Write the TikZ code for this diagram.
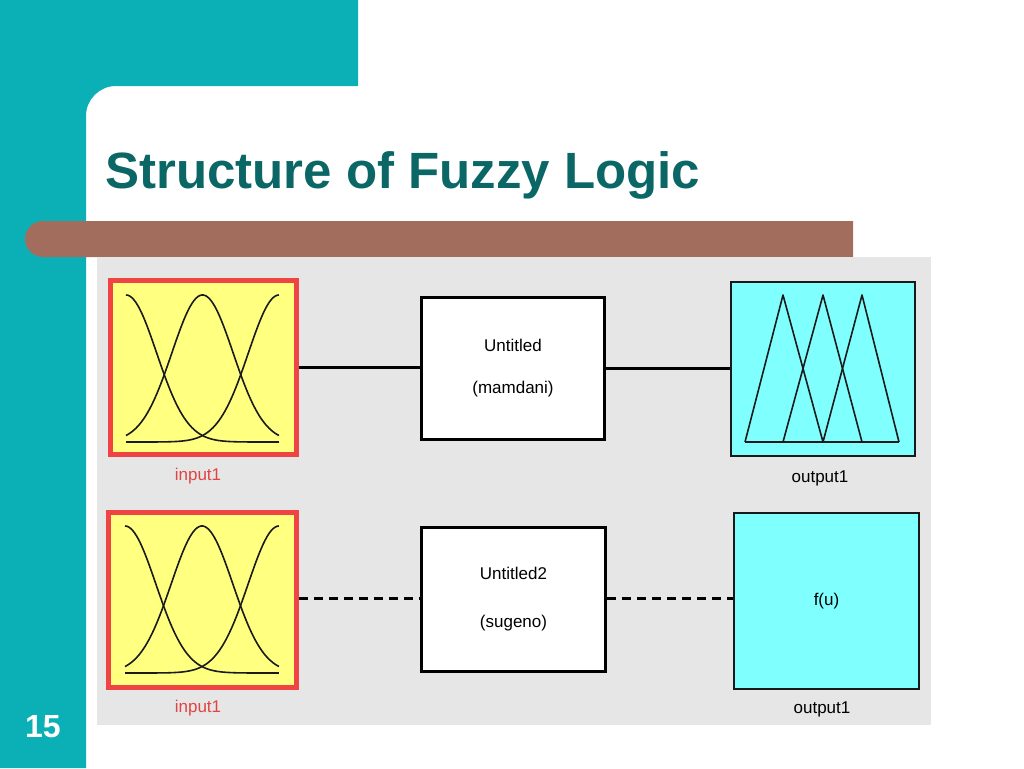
\documentclass[tikz,border=0pt]{standalone}
\usepackage{fontspec}
\setmainfont{Liberation Sans}
\definecolor{teal1}{HTML}{0BB0B7}
\definecolor{titlec}{HTML}{0B6666}
\definecolor{brownbar}{HTML}{A26D5D}
\definecolor{panel}{HTML}{E6E6E6}
\definecolor{inred}{HTML}{F04444}
\definecolor{inyellow}{HTML}{FFFF80}
\definecolor{outcyan}{HTML}{80FFFF}
\definecolor{lblred}{HTML}{E04444}
\definecolor{curvec}{HTML}{1A1A1A}
\begin{document}
\begin{tikzpicture}[x=1pt,y=-1pt,
  inbox/.style={draw=inred, line width=5pt, fill=inyellow, inner sep=0pt},
  fisbox/.style={draw=black, line width=3pt, fill=white, inner sep=0pt, align=center,
    font=\fontsize{17}{42}\selectfont},
  outbox/.style={draw=black!90, line width=2pt, fill=outcyan, inner sep=0pt,
    font=\fontsize{17}{20}\selectfont},
  conn/.style={line width=3pt},
  dconn/.style={line width=3pt, dash pattern=on 9pt off 6pt},
  mf/.style={line width=1.6pt, draw=curvec},
  lbl/.style={font=\fontsize{17}{20}\selectfont, inner sep=0pt}
]
\useasboundingbox (0,0) rectangle (1024,768);
\fill[white] (0,0) rectangle (1024,768);
% teal frame
\fill[teal1] (0,0) -- (358,0) -- (358,86) -- (116,86)
  arc[start angle=90, end angle=180, radius=30pt] -- (86,768) -- (0,768) -- cycle;
% brown bar
\fill[brownbar] (853,221) -- (43,221) arc[start angle=90, end angle=270, radius=18pt] -- (853,257) -- cycle;
% title
\node[anchor=base west, inner sep=0pt, text=titlec, font=\fontsize{51}{60}\selectfont\bfseries] (title) at (105,188) {Structure of Fuzzy Logic};
% page number
\node[text=white, font=\fontsize{32}{36}\selectfont\bfseries, inner sep=0pt] (pnum) at (43,727) {15};
% grey panel
\fill[panel] (97,257) rectangle (931,725);

% ---- top row ----
\node[inbox, minimum width=186pt, minimum height=174pt] (in1) at (203.5,367.5) {};
\node[fisbox, minimum width=183pt, minimum height=142pt] (mam) at (513,368.5) {Untitled\\(mamdani)};
\node[outbox, minimum width=184pt, minimum height=174pt] (out1) at (823,369) {};
\draw[conn] (in1.east) -- (in1.east -| mam.west);
\draw[conn] (mam.east) -- (mam.east -| out1.west);
\node[lbl, text=lblred] (l1) at (198,476) {input1};
\node[lbl] (l2) at (820,478) {output1};
% gaussian mfs top
\draw[mf] plot[domain=0:1, samples=80] ({126+153*\x}, {442-147*exp(-((\x)^2)/0.08)});
\draw[mf] plot[domain=0:1, samples=80] ({126+153*\x}, {442-147*exp(-((\x-0.5)^2)/0.08)});
\draw[mf] plot[domain=0:1, samples=80] ({126+153*\x}, {442-147*exp(-((\x-1)^2)/0.08)});
% triangular mfs
\draw[mf, line join=round] (745,442) -- (783,295) -- (823,442);
\draw[mf, line join=round] (783,442) -- (823,295) -- (862,442);
\draw[mf, line join=round] (823,442) -- (862,295) -- (899,442);
\draw[mf] (745,442) -- (899,442);

% ---- bottom row ----
\node[inbox, minimum width=188pt, minimum height=175pt] (in2) at (202.5,600) {};
\node[fisbox, minimum width=184pt, minimum height=144pt] (sug) at (513.5,599.5) {Untitled2\\[6pt](sugeno)};
\node[outbox, minimum width=185pt, minimum height=176pt] (fu) at (826.5,601) {f(u)};
\draw[dconn] (in2.east |- 0,598) -- (sug.west |- 0,598);
\draw[dconn] (sug.east |- 0,598) -- (fu.west |- 0,598);
\node[lbl, text=lblred] (l3) at (198,708) {input1};
\node[lbl] (l4) at (822,709) {output1};
% gaussian mfs bottom
\draw[mf] plot[domain=0:1, samples=80] ({125+154*\x}, {673-147*exp(-((\x)^2)/0.08)});
\draw[mf] plot[domain=0:1, samples=80] ({125+154*\x}, {673-147*exp(-((\x-0.5)^2)/0.08)});
\draw[mf] plot[domain=0:1, samples=80] ({125+154*\x}, {673-147*exp(-((\x-1)^2)/0.08)});
\end{tikzpicture}
\end{document}
